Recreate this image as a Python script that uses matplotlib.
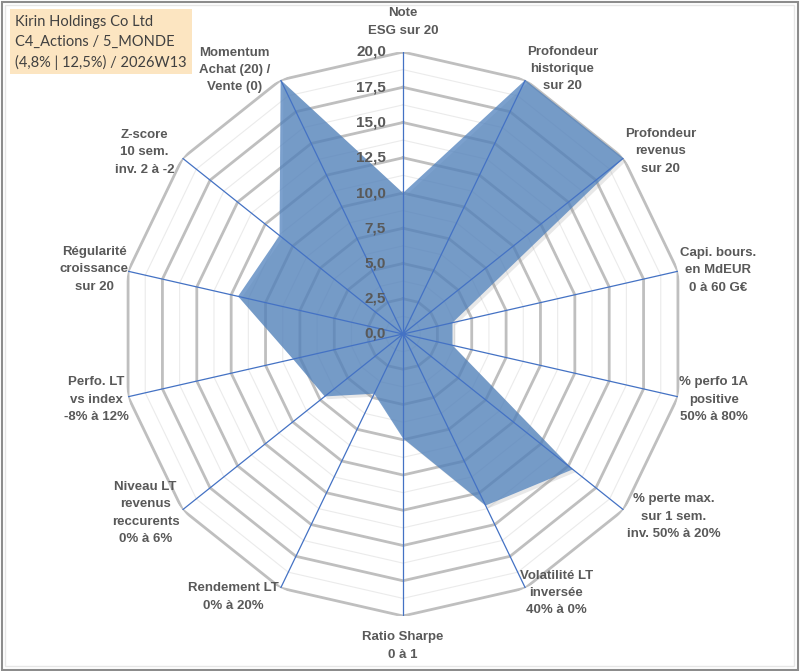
import numpy as np
import matplotlib
matplotlib.use('Agg')
import matplotlib.pyplot as plt
import matplotlib.patheffects as pe
from matplotlib.patches import Rectangle

# Critères du radar (dans l'ordre des aiguilles d'une montre, depuis le haut)
criteres = [
    'Note\nESG sur 20',
    'Profondeur\nhistorique\nsur 20',
    'Profondeur\nrevenus\nsur 20',
    'Capi. bours.\nen MdEUR\n0 à 60 G€',
    '% perfo 1A\npositive\n50% à 80%',
    '% perte max.\nsur 1 sem.\ninv. 50% à 20%',
    'Volatilité LT\ninversée\n40% à 0%',
    'Ratio Sharpe\n0 à 1',
    'Rendement LT\n0% à 20%',
    'Niveau LT\nrevenus\nreccurents\n0% à 6%',
    'Perfo. LT\nvs index\n-8% à 12%',
    'Régularité\ncroissance\nsur 20',
    'Z-score\n10 sem.\ninv. 2 à -2',
    'Momentum\nAchat (20) /\nVente (0)',
]
notes = [10.0, 20.0, 20.0, 3.6, 3.6, 15.4, 13.5, 7.4, 4.7, 7.1, 8.0, 12.0, 11.2, 20.0]

graduations = [0.0, 2.5, 5.0, 7.5, 10.0, 12.5, 15.0, 17.5, 20.0]
etiquettes_grad = ['0,0', '2,5', '5,0', '7,5', '10,0', '12,5', '15,0', '17,5', '20,0']

titre = ['Kirin Holdings Co Ltd', 'C4_Actions / 5_MONDE', '(4,8% | 12,5%) / 2026W13']

# Décalage des étiquettes par rapport au sommet (pixels)
decalages = [(0, 30), (37, 11), (37, 7), (40, 1), (36, -3), (50, -7), (31, -5),
             (0, -30), (-47, -9), (-37, -3), (-32, -3), (-34, 2), (-38, 6), (-46, 10)]

gris_texte = '#595959'
n = len(criteres)
angles = np.linspace(0, 2 * np.pi, n, endpoint=False)
angles_f = np.append(angles, angles[0])
notes_f = np.append(notes, notes[0])

fig = plt.figure(figsize=(8.01, 6.71), dpi=100)
ax = fig.add_axes([121 / 801, 55 / 671, 564 / 801, 564 / 671], projection='polar')
ax.set_theta_zero_location('N')
ax.set_theta_direction(-1)
ax.set_ylim(0, 20)
ax.set_xticks([])
ax.set_yticks([])
ax.grid(False)
ax.spines['polar'].set_visible(False)
ax.patch.set_visible(False)

# Grille polygonale : principale tous les 2,5, secondaire tous les 1,25
for r in np.arange(1.25, 20.01, 1.25):
    if abs(r / 2.5 - round(r / 2.5)) < 1e-6:
        ax.plot(angles_f, [r] * len(angles_f), color='#BFBFBF', lw=2.0, zorder=1)
    else:
        ax.plot(angles_f, [r] * len(angles_f), color='#EBEBEB', lw=0.8, zorder=1)

# Surface
poly = ax.fill(angles_f, notes_f, color='#4F81BD', alpha=0.75, lw=0, zorder=2)
for p in poly:
    p.set_path_effects([pe.SimplePatchShadow(offset=(2, -2), shadow_rgbFace='#8c8c8c', alpha=0.2),
                        pe.Normal()])

# Rayons
for a in angles:
    ax.plot([a, a], [0, 20], color='#4472C4', lw=0.9, zorder=3)

# Graduations
for g, lab in zip(graduations, etiquettes_grad):
    ax.annotate(lab, xy=(0, g), xytext=(-17, 0), textcoords='offset pixels',
                ha='right', va='center', fontsize=11, fontweight='bold',
                color=gris_texte, family='Liberation Sans', zorder=4)

# Étiquettes des critères
for a, lab, (dx, dy) in zip(angles, criteres, decalages):
    ax.annotate(lab, xy=(a, 20), xytext=(dx, dy), textcoords='offset pixels',
                ha='center', va='center', fontsize=9.5, fontweight='bold',
                color=gris_texte, family='Liberation Sans', linespacing=1.6,
                annotation_clip=False)

# Cartouche
fig.add_artist(Rectangle((10 / 801, 1 - 74 / 671), 182 / 801, 65 / 671,
                         transform=fig.transFigure, facecolor='#FCE5C1', edgecolor='none'))
for i, t in enumerate(titre):
    fig.text(15 / 801, 1 - (21.7 + 20.3 * i) / 671, t, ha='left', va='center',
             fontsize=10.5, color='#404040', family='Lato')

# Cadre
fig.add_artist(Rectangle((0.002, 0.002), 0.994, 0.995, transform=fig.transFigure,
                         fill=False, edgecolor='#8C8C8C', lw=1.5))
fig.add_artist(Rectangle((0.006, 0.008), 0.985, 0.984, transform=fig.transFigure,
                         fill=False, edgecolor='#E6E6E6', lw=1.0))

fig.savefig('out.png', dpi=100)
